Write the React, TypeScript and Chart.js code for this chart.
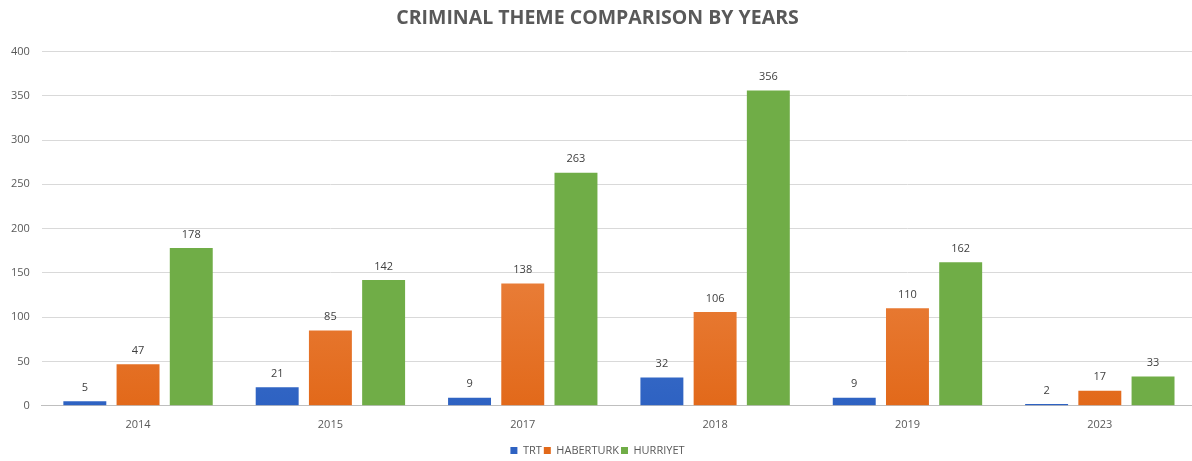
import React, { useEffect, useRef } from "react";
import { Chart, registerables } from "chart.js";

Chart.register(...registerables);

const years = ["2014", "2015", "2017", "2018", "2019", "2023"];
const trt = [5, 21, 9, 32, 9, 2];
const haberturk = [47, 85, 138, 106, 110, 17];
const hurriyet = [178, 142, 263, 356, 162, 33];
const seriesNames = ["TRT", "HABERTURK", "HURRIYET"];
const yTicks = [0, 50, 100, 150, 200, 250, 300, 350, 400];

const FONT = "'Open Sans', 'Liberation Sans', sans-serif";
const CANVAS_W = 1197;
const CANVAS_H = 461;

function gradient(ctx: any, chartArea: any, top: string, bottom: string, fallback: string) {
  if (!chartArea) return fallback;
  const g = ctx.createLinearGradient(0, chartArea.top, 0, chartArea.bottom);
  g.addColorStop(0, top);
  g.addColorStop(1, bottom);
  return g;
}

const valueLabels = {
  id: "valueLabels",
  afterDatasetsDraw(chart: any) {
    const { ctx } = chart;
    ctx.save();
    ctx.font = `11px ${FONT}`;
    ctx.fillStyle = "#404040";
    ctx.textAlign = "center";
    ctx.textBaseline = "bottom";
    chart.data.datasets.forEach((ds: any, i: number) => {
      const meta = chart.getDatasetMeta(i);
      meta.data.forEach((bar: any, j: number) => {
        ctx.fillText(String(ds.data[j]), bar.x, bar.y - 8);
      });
    });
    ctx.restore();
  },
};

export default function App() {
  const ref = useRef<HTMLCanvasElement>(null);
  useEffect(() => {
    if (!ref.current) return;
    const chart = new Chart(ref.current, {
      type: "bar",
      data: {
        labels: years,
        datasets: [
          {
            label: seriesNames[0],
            data: trt,
            backgroundColor: (c: any) =>
              gradient(c.chart.ctx, c.chart.chartArea, "#5f8fdc", "#2e62c2", "#4472C4"),
            borderWidth: 0,
          },
          {
            label: seriesNames[1],
            data: haberturk,
            backgroundColor: (c: any) =>
              gradient(c.chart.ctx, c.chart.chartArea, "#f4a06c", "#e2691a", "#ED7D31"),
            borderWidth: 0,
          },
          {
            label: seriesNames[2],
            data: hurriyet,
            backgroundColor: "#70AD47",
            borderWidth: 0,
          },
        ],
      },
      options: {
        responsive: false,
        animation: false,
        datasets: { bar: { categoryPercentage: 0.83, barPercentage: 0.807 } },
        layout: { padding: { left: -1, right: 1, top: 0, bottom: -5 } },
        plugins: {
          title: {
            display: true,
            text: "CRIMINAL THEME COMPARISON BY YEARS",
            color: "#595959",
            font: { family: FONT, size: 19.5, weight: "bold" },
            padding: { top: 7, bottom: 21 },
          },
          legend: {
            position: "bottom",
            labels: {
              color: "#595959",
              font: { family: FONT, size: 11 },
              boxWidth: 7,
              boxHeight: 7,
              padding: 2,
            },
          },
          tooltip: { enabled: false },
        },
        scales: {
          x: {
            grid: { display: false, drawTicks: false },
            border: { display: true, color: "#bfbfbf", width: 1 },
            ticks: {
              color: "#595959",
              font: { family: FONT, size: 11 },
              padding: 12,
            },
          },
          y: {
            min: 0,
            max: 400,
            afterBuildTicks: (axis: any) => {
              axis.ticks = yTicks.map((v) => ({ value: v }));
            },
            grid: { color: "#d9d9d9", drawTicks: false },
            border: { display: false },
            ticks: { color: "#595959", font: { family: FONT, size: 11 }, padding: 12 },
          },
        },
      },
      plugins: [valueLabels],
    });
    return () => chart.destroy();
  }, []);
  return (
    <div
      style={{
        position: "fixed",
        left: 0,
        top: 0,
        width: CANVAS_W,
        height: CANVAS_H,
        background: "#fff",
      }}
    >
      <canvas ref={ref} width={CANVAS_W} height={CANVAS_H} />
    </div>
  );
}
